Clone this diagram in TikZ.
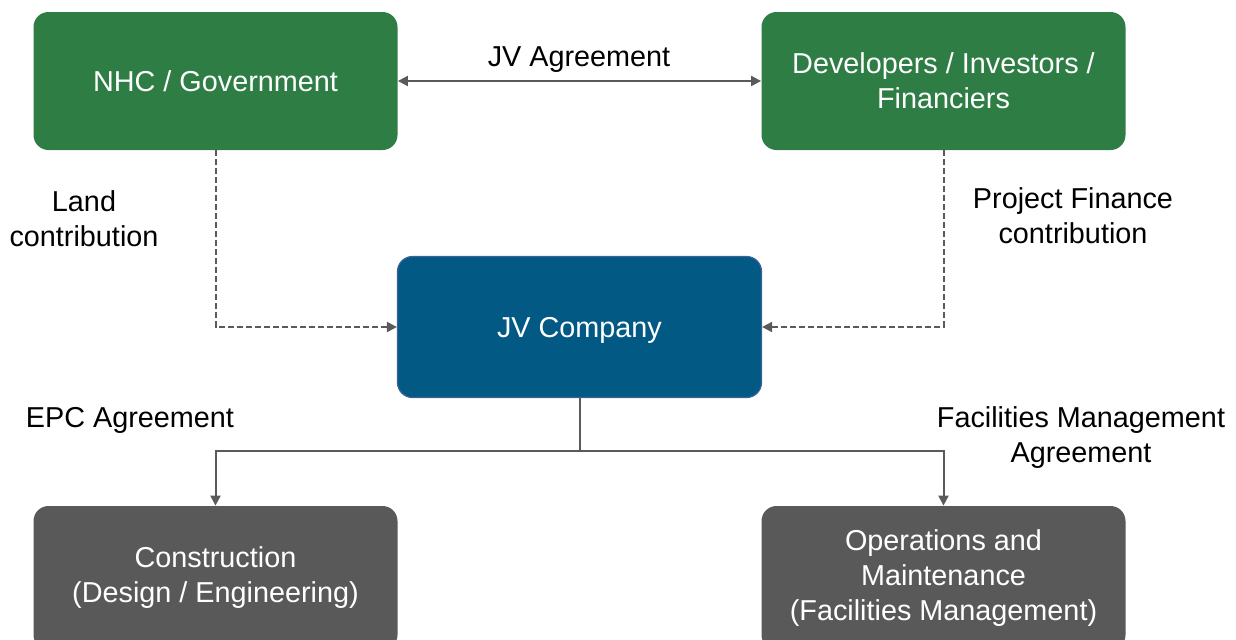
\documentclass[tikz,border=0pt]{standalone}
\usepackage{fontspec}
\setmainfont{Liberation Sans}
\usetikzlibrary{arrows.meta}
\definecolor{boxgreen}{HTML}{2E7D45}
\definecolor{boxblue}{HTML}{025A84}
\definecolor{blueedge}{HTML}{3D6396}
\definecolor{boxgray}{HTML}{595959}
\definecolor{linegray}{HTML}{5A5A5A}
\tikzset{
  box/.style={rectangle, rounded corners=7.5pt, minimum width=182pt, text=white,
    font=\fontsize{14.4}{17.5}\selectfont, align=center, inner sep=0pt},
  greenbox/.style={box, fill=boxgreen, minimum height=69pt},
  bluebox/.style={box, fill=boxblue, draw=blueedge, line width=0.6pt, minimum height=70.5pt},
  graybox/.style={box, fill=boxgray, minimum height=72pt},
  lbl/.style={font=\fontsize{14.4}{17.5}\selectfont, align=center, text=black, inner sep=0pt},
  conn/.style={draw=linegray, line width=1pt},
  tip/.style={-{Triangle[length=5pt,width=5pt]}},
  dashconn/.style={conn, dash pattern=on 3pt off 1.5pt}
}
\begin{document}
\begin{tikzpicture}[x=0.5pt,y=-0.5pt]
\useasboundingbox (0,0) rectangle (1236,639);
\clip (0,0) rectangle (1236,639);
\node[greenbox] (nhc) at (215.5,81) {NHC / Government};
\node[greenbox] (dev) at (943.5,81) {Developers / Investors /\\Financiers};
\node[bluebox, text depth=0pt] (jv) at (579.5,327) {JV Company};
\node[graybox] (con) at (215.5,578) {Construction\\(Design / Engineering)};
\node[graybox] (om) at (943.5,578) {Operations and\\Maintenance\\(Facilities Management)};
\coordinate (split) at (579.5,451);

\draw[conn,{Triangle[length=5pt,width=5pt]}-{Triangle[length=5pt,width=5pt]}] (nhc.east |- 0,81) -- (dev.west |- 0,81);
\draw[dashconn,tip] (nhc.south) |- (jv.west);
\draw[dashconn,tip] (dev.south) |- (jv.east);
\draw[conn] (jv.south) -- (split);
\draw[conn,tip] (split) -| (con.north);
\draw[conn,tip] (split) -| (om.north);

\node[lbl] (jva) at (579,60) {JV Agreement};
\node[lbl] (land) at (84,219) {Land\\contribution};
\node[lbl] (pfc) at (1073,216) {Project Finance\\contribution};
\node[lbl] (epc) at (130,420) {EPC Agreement};
\node[lbl] (fma) at (1081,438) {Facilities Management\\Agreement};
\end{tikzpicture}
\end{document}
